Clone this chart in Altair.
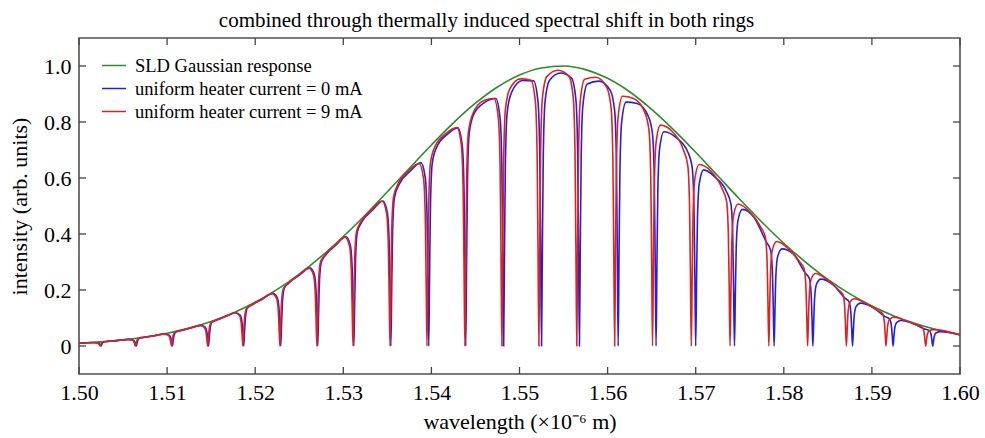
import altair as alt
import pandas as pd

# ---------------- data ----------------
SERIES = ["SLD Gaussian response",
          "uniform heater current = 0 mA",
          "uniform heater current = 9 mA"]
COLORS = ["#2a8c2a", "#2020e0", "#e32020"]

# SLD Gaussian envelope (wavelength in µm, intensity)
ENV_WL = [1.5000, 1.5025, 1.5050, 1.5075, 1.5100, 1.5125, 1.5150, 1.5175, 1.5200, 1.5225,
          1.5250, 1.5275, 1.5300, 1.5325, 1.5350, 1.5375, 1.5400, 1.5425, 1.5450, 1.5475,
          1.5500, 1.5525, 1.5550, 1.5575, 1.5600, 1.5625, 1.5650, 1.5675, 1.5700, 1.5725,
          1.5750, 1.5775, 1.5800, 1.5825, 1.5850, 1.5875, 1.5900, 1.5925, 1.5950, 1.5975,
          1.6000]
ENV_I = [0.0098, 0.0148, 0.0219, 0.0319, 0.0456, 0.0638, 0.0876, 0.118, 0.156, 0.202,
         0.257, 0.320, 0.391, 0.468, 0.551, 0.635, 0.718, 0.797, 0.867, 0.925,
         0.968, 0.993, 1.000, 0.987, 0.956, 0.908, 0.845, 0.772, 0.692, 0.608,
         0.524, 0.443, 0.367, 0.299, 0.238, 0.186, 0.143, 0.1075, 0.0793, 0.0574,
         0.0407]

# 0 mA (blue): notch centres, level just left / right of each notch, level mid-way between notches
BLUE_DIPS = [1.5025, 1.5065, 1.5106, 1.5147, 1.5187, 1.5229, 1.5271, 1.5312, 1.5354, 1.5397,
             1.5439, 1.5482, 1.5525, 1.5568, 1.5612, 1.5655, 1.5700, 1.5744, 1.5789, 1.5833,
             1.5878, 1.5924, 1.5969]
BLUE_LEFT = [0.0124, 0.0235, 0.0428, 0.0738, 0.119, 0.188, 0.279, 0.390, 0.518, 0.655,
             0.779, 0.884, 0.947, 0.957, 0.913, 0.822, 0.693, 0.551, 0.372, 0.262,
             0.172, 0.105, 0.0607]
BLUE_RIGHT = [0.0167, 0.0308, 0.0546, 0.0922, 0.146, 0.224, 0.325, 0.443, 0.575, 0.710,
              0.827, 0.906, 0.948, 0.936, 0.871, 0.765, 0.629, 0.488, 0.347, 0.239,
              0.153, 0.0909, 0.0512]
BLUE_MID = [0.0200, 0.0366, 0.0641, 0.1060, 0.1672, 0.253, 0.360, 0.485, 0.623, 0.756,
            0.870, 0.948, 0.975, 0.946, 0.866, 0.745, 0.603, 0.458, 0.328, 0.220,
            0.138, 0.0807]
BLUE_ENDS = [0.0096, 0.0395]

# 9 mA (red)
RED_DIPS = [1.5024, 1.5064, 1.5105, 1.5146, 1.5186, 1.5228, 1.5270, 1.5311, 1.5353, 1.5395,
            1.5438, 1.5480, 1.5522, 1.5565, 1.5608, 1.5651, 1.5695, 1.5739, 1.5783, 1.5827,
            1.5871, 1.5916, 1.5961]
RED_LEFT = [0.0123, 0.0232, 0.0424, 0.0733, 0.1188, 0.1870, 0.278, 0.389, 0.518, 0.652,
            0.780, 0.884, 0.949, 0.964, 0.924, 0.836, 0.701, 0.562, 0.424, 0.301,
            0.201, 0.126, 0.0734]
RED_RIGHT = [0.0165, 0.0305, 0.0542, 0.0916, 0.1452, 0.2233, 0.325, 0.444, 0.578, 0.712,
             0.829, 0.918, 0.962, 0.953, 0.892, 0.789, 0.648, 0.507, 0.373, 0.259,
             0.169, 0.103, 0.0585]
RED_MID = [0.0198, 0.0363, 0.0636, 0.1052, 0.1663, 0.2517, 0.359, 0.486, 0.625, 0.759,
           0.876, 0.954, 0.985, 0.960, 0.884, 0.767, 0.625, 0.480, 0.348, 0.237,
           0.151, 0.090]
RED_ENDS = [0.0097, 0.0400]

# notch profile (offset in µm from the notch centre, fraction of shoulder level)
NOTCH_OFFSETS = [-0.0009, -0.0004, -0.0002, -0.0001, 0.0, 0.0001, 0.0002, 0.0004, 0.0009]
NOTCH_FACTORS = [1.0, 0.92, 0.72, 0.38, 0.0, 0.38, 0.72, 0.92, 1.0]

X_TICKS = [1.50, 1.51, 1.52, 1.53, 1.54, 1.55, 1.56, 1.57, 1.58, 1.59, 1.60]
Y_TICKS = [0.0, 0.2, 0.4, 0.6, 0.8, 1.0]


def build(name, dips, left, right, mid, ends):
    rows = [{"wl": 1.50, "I": ends[0], "series": name}]
    for i, c in enumerate(dips):
        for off, f in zip(NOTCH_OFFSETS, NOTCH_FACTORS):
            level = left[i] if off < 0 else right[i]
            rows.append({"wl": round(c + off, 6), "I": f * level, "series": name})
        if i < len(dips) - 1:
            rows.append({"wl": round((c + dips[i + 1]) / 2, 6), "I": mid[i], "series": name})
    rows.append({"wl": 1.60, "I": ends[1], "series": name})
    return pd.DataFrame(rows)


env_df = pd.DataFrame({"wl": ENV_WL, "I": ENV_I, "series": SERIES[0]})
blue_df = build(SERIES[1], BLUE_DIPS, BLUE_LEFT, BLUE_RIGHT, BLUE_MID, BLUE_ENDS)
red_df = build(SERIES[2], RED_DIPS, RED_LEFT, RED_RIGHT, RED_MID, RED_ENDS)
curves = pd.concat([env_df, blue_df, red_df], ignore_index=True)

FONT = "Liberation Serif"
W, H = 881, 336
xscale = alt.Scale(domain=[1.50, 1.60], nice=False, zero=False)
yscale = alt.Scale(domain=[-0.1, 1.1], nice=False, zero=False)

AX_X = alt.Axis(values=X_TICKS, format=".2f", title="wavelength (×10⁻⁶ m)",
                ticks=False, domain=False, grid=False, labelPadding=8,
                labelFont=FONT, labelFontSize=22, labelColor="black",
                titleFont=FONT, titleFontSize=22, titleFontWeight="normal",
                titleColor="black", titlePadding=8, labelFlush=False)
AX_Y = alt.Axis(values=Y_TICKS, title="intensity (arb. units)",
                labelExpr="datum.value == 0 ? '0' : format(datum.value, '.1f')",
                ticks=False, domain=False, grid=False, labelPadding=8,
                labelFont=FONT, labelFontSize=22, labelColor="black",
                titleFont=FONT, titleFontSize=22, titleFontWeight="normal",
                titleColor="black", titlePadding=12)

lines = alt.Chart(curves).mark_line(strokeWidth=1.6, interpolate="monotone").encode(
    x=alt.X("wl:Q", scale=xscale, axis=AX_X),
    y=alt.Y("I:Q", scale=yscale, axis=AX_Y),
    color=alt.Color("series:N", scale=alt.Scale(domain=SERIES, range=COLORS),
                    legend=alt.Legend(title=None, orient="none", legendX=22, legendY=16,
                                      symbolType="stroke", symbolSize=576,
                                      symbolStrokeWidth=1.6, labelFont=FONT,
                                      labelFontSize=18.5, labelColor="black",
                                      labelOffset=8, clipHeight=23, rowPadding=0,
                                      padding=0, labelLimit=400)),
    order=alt.Order("wl:Q"),
)

xt = pd.DataFrame({"wl": X_TICKS})
yt = pd.DataFrame({"I": Y_TICKS})
TICK = dict(color="#444444", strokeWidth=1.3)

xb = alt.Chart(xt).mark_rule(**TICK).encode(
    x=alt.X("wl:Q", scale=xscale, axis=AX_X), y=alt.value(H), y2=alt.value(H - 7))
xtop = alt.Chart(xt).mark_rule(**TICK).encode(
    x=alt.X("wl:Q", scale=xscale, axis=AX_X), y=alt.value(0), y2=alt.value(7))
yl = alt.Chart(yt).mark_rule(**TICK).encode(
    y=alt.Y("I:Q", scale=yscale, axis=AX_Y), x=alt.value(0), x2=alt.value(7))
yr = alt.Chart(yt).mark_rule(**TICK).encode(
    y=alt.Y("I:Q", scale=yscale, axis=AX_Y), x=alt.value(W), x2=alt.value(W - 7))

chart = alt.layer(lines, xb, xtop, yl, yr).properties(
    width=W, height=H,
    background="white",
    title=alt.TitleParams("combined through thermally induced spectral shift in both rings",
                          font=FONT, fontSize=21, fontWeight="normal", color="black",
                          anchor="middle", dx=-33, dy=23, offset=12, baseline="alphabetic",
                          frame="group"),
    autosize=alt.AutoSizeParams(type="none"),
    padding={"left": 79, "top": 38, "right": 25, "bottom": 64},
).configure_view(stroke="#505050", strokeWidth=1.6)

chart.save("out.html", embed_options={"renderer": "svg", "actions": False})
